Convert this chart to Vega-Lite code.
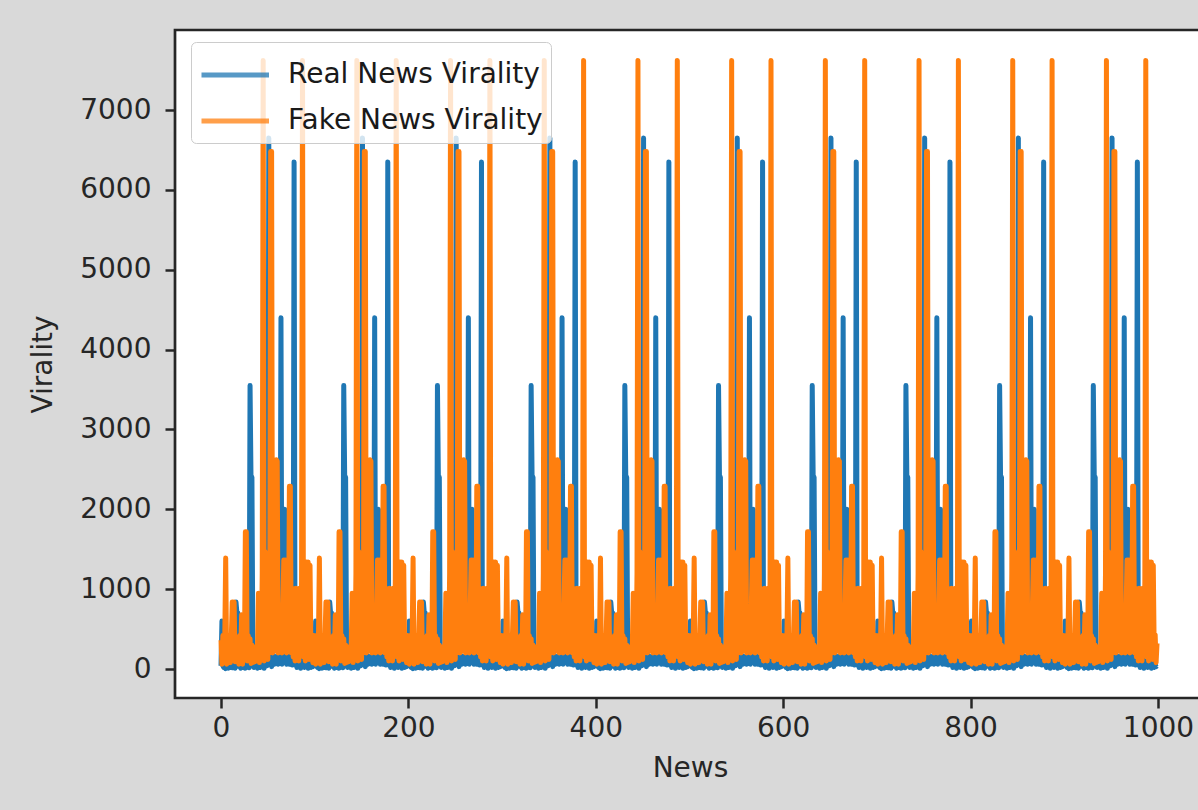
{
"$schema": "https://vega.github.io/schema/vega-lite/v6.json",
"width": 1030, "height": 668,
"autosize": {"type": "none"},
"padding": {"left": 175, "top": 30, "right": 0, "bottom": 112},
"background": "#d9d9d9",
"config": {
  "view": {"fill": "white", "stroke": "#262626", "strokeWidth": 2.7},
  "font": "DejaVu Sans",
  "axis": {"grid": false, "domain": false, "tickColor": "#262626", "tickWidth": 2.5, "tickSize": 10, "labelFontSize": 28, "titleFontSize": 28, "labelColor": "#262626", "titleColor": "#262626", "titleFontWeight": "normal", "labelFont": "DejaVu Sans", "titleFont": "DejaVu Sans", "format": "d"}
},
"datasets": {"d": [
{"n":0,"r":40,"f":360},{"n":1,"r":600,"f":60},{"n":2,"r":40,"f":420},{"n":3,"r":20,"f":120},{"n":4,"r":60,"f":380},{"n":5,"r":5,"f":1390},{"n":6,"r":80,"f":60},{"n":7,"r":30,"f":430},{"n":8,"r":10,"f":200},{"n":9,"r":50,"f":400},
{"n":10,"r":20,"f":80},{"n":11,"r":70,"f":400},{"n":12,"r":15,"f":840},{"n":13,"r":40,"f":150},{"n":14,"r":90,"f":840},{"n":15,"r":10,"f":90},{"n":16,"r":840,"f":400},{"n":17,"r":700,"f":250},{"n":18,"r":700,"f":400},{"n":19,"r":30,"f":60},
{"n":20,"r":60,"f":420},{"n":21,"r":10,"f":150},{"n":22,"r":40,"f":680},{"n":23,"r":80,"f":60},{"n":24,"r":20,"f":600},{"n":25,"r":50,"f":150},{"n":26,"r":10,"f":1720},{"n":27,"r":60,"f":1720},{"n":28,"r":30,"f":100},{"n":29,"r":90,"f":420},
{"n":30,"r":15,"f":120},{"n":31,"r":3550,"f":380},{"n":32,"r":2400,"f":70},{"n":33,"r":2400,"f":300},{"n":34,"r":250,"f":80},{"n":35,"r":20,"f":260},{"n":36,"r":70,"f":90},{"n":37,"r":30,"f":280},{"n":38,"r":100,"f":120},{"n":39,"r":10,"f":300},
{"n":40,"r":60,"f":950},{"n":41,"r":120,"f":80},{"n":42,"r":20,"f":900},{"n":43,"r":90,"f":150},{"n":44,"r":50,"f":1200},{"n":45,"r":130,"f":7620},{"n":46,"r":10,"f":100},{"n":47,"r":80,"f":1470},{"n":48,"r":140,"f":300},{"n":49,"r":40,"f":1300},
{"n":50,"r":100,"f":120},{"n":51,"r":6650,"f":1100},{"n":52,"r":60,"f":200},{"n":53,"r":150,"f":6480},{"n":54,"r":30,"f":6480},{"n":55,"r":120,"f":200},{"n":56,"r":170,"f":1200},{"n":57,"r":60,"f":220},{"n":58,"r":150,"f":1300},{"n":59,"r":90,"f":2620},
{"n":60,"r":160,"f":2600},{"n":61,"r":60,"f":200},{"n":62,"r":140,"f":780},{"n":63,"r":170,"f":220},{"n":64,"r":4400,"f":760},{"n":65,"r":60,"f":200},{"n":66,"r":150,"f":780},{"n":67,"r":120,"f":1365},{"n":68,"r":2000,"f":220},{"n":69,"r":170,"f":1365},
{"n":70,"r":60,"f":200},{"n":71,"r":160,"f":900},{"n":72,"r":130,"f":250},{"n":73,"r":60,"f":2290},{"n":74,"r":170,"f":2290},{"n":75,"r":140,"f":200},{"n":76,"r":50,"f":1010},{"n":77,"r":120,"f":150},{"n":78,"r":6350,"f":1000},{"n":79,"r":50,"f":100},
{"n":80,"r":110,"f":1010},{"n":81,"r":20,"f":150},{"n":82,"r":90,"f":980},{"n":83,"r":60,"f":100},{"n":84,"r":130,"f":1010},{"n":85,"r":10,"f":200},{"n":86,"r":70,"f":1100},{"n":87,"r":40,"f":7620},{"n":88,"r":100,"f":150},{"n":89,"r":20,"f":1200},
{"n":90,"r":60,"f":100},{"n":91,"r":30,"f":1340},{"n":92,"r":80,"f":200},{"n":93,"r":10,"f":1340},{"n":94,"r":50,"f":120},{"n":95,"r":90,"f":1300},{"n":96,"r":20,"f":200},{"n":97,"r":60,"f":430},{"n":98,"r":30,"f":80},{"n":99,"r":40,"f":420},
{"n":100,"r":40,"f":360},{"n":101,"r":600,"f":60},{"n":102,"r":40,"f":420},{"n":103,"r":20,"f":120},{"n":104,"r":60,"f":380},{"n":105,"r":5,"f":1390},{"n":106,"r":80,"f":60},{"n":107,"r":30,"f":430},{"n":108,"r":10,"f":200},{"n":109,"r":50,"f":400},
{"n":110,"r":20,"f":80},{"n":111,"r":70,"f":400},{"n":112,"r":15,"f":840},{"n":113,"r":40,"f":150},{"n":114,"r":90,"f":840},{"n":115,"r":10,"f":90},{"n":116,"r":840,"f":400},{"n":117,"r":700,"f":250},{"n":118,"r":700,"f":400},{"n":119,"r":30,"f":60},
{"n":120,"r":60,"f":420},{"n":121,"r":10,"f":150},{"n":122,"r":40,"f":680},{"n":123,"r":80,"f":60},{"n":124,"r":20,"f":600},{"n":125,"r":50,"f":150},{"n":126,"r":10,"f":1720},{"n":127,"r":60,"f":1720},{"n":128,"r":30,"f":100},{"n":129,"r":90,"f":420},
{"n":130,"r":15,"f":120},{"n":131,"r":3550,"f":380},{"n":132,"r":2400,"f":70},{"n":133,"r":2400,"f":300},{"n":134,"r":250,"f":80},{"n":135,"r":20,"f":260},{"n":136,"r":70,"f":90},{"n":137,"r":30,"f":280},{"n":138,"r":100,"f":120},{"n":139,"r":10,"f":300},
{"n":140,"r":60,"f":950},{"n":141,"r":120,"f":80},{"n":142,"r":20,"f":900},{"n":143,"r":90,"f":150},{"n":144,"r":50,"f":1200},{"n":145,"r":130,"f":7620},{"n":146,"r":10,"f":100},{"n":147,"r":80,"f":1470},{"n":148,"r":140,"f":300},{"n":149,"r":40,"f":1300},
{"n":150,"r":100,"f":120},{"n":151,"r":6650,"f":1100},{"n":152,"r":60,"f":200},{"n":153,"r":150,"f":6480},{"n":154,"r":30,"f":6480},{"n":155,"r":120,"f":200},{"n":156,"r":170,"f":1200},{"n":157,"r":60,"f":220},{"n":158,"r":150,"f":1300},{"n":159,"r":90,"f":2620},
{"n":160,"r":160,"f":2600},{"n":161,"r":60,"f":200},{"n":162,"r":140,"f":780},{"n":163,"r":170,"f":220},{"n":164,"r":4400,"f":760},{"n":165,"r":60,"f":200},{"n":166,"r":150,"f":780},{"n":167,"r":120,"f":1365},{"n":168,"r":2000,"f":220},{"n":169,"r":170,"f":1365},
{"n":170,"r":60,"f":200},{"n":171,"r":160,"f":900},{"n":172,"r":130,"f":250},{"n":173,"r":60,"f":2290},{"n":174,"r":170,"f":2290},{"n":175,"r":140,"f":200},{"n":176,"r":50,"f":1010},{"n":177,"r":120,"f":150},{"n":178,"r":6350,"f":1000},{"n":179,"r":50,"f":100},
{"n":180,"r":110,"f":1010},{"n":181,"r":20,"f":150},{"n":182,"r":90,"f":980},{"n":183,"r":60,"f":100},{"n":184,"r":130,"f":1010},{"n":185,"r":10,"f":200},{"n":186,"r":70,"f":1100},{"n":187,"r":40,"f":7620},{"n":188,"r":100,"f":150},{"n":189,"r":20,"f":1200},
{"n":190,"r":60,"f":100},{"n":191,"r":30,"f":1340},{"n":192,"r":80,"f":200},{"n":193,"r":10,"f":1340},{"n":194,"r":50,"f":120},{"n":195,"r":90,"f":1300},{"n":196,"r":20,"f":200},{"n":197,"r":60,"f":430},{"n":198,"r":30,"f":80},{"n":199,"r":40,"f":420},
{"n":200,"r":40,"f":360},{"n":201,"r":600,"f":60},{"n":202,"r":40,"f":420},{"n":203,"r":20,"f":120},{"n":204,"r":60,"f":380},{"n":205,"r":5,"f":1390},{"n":206,"r":80,"f":60},{"n":207,"r":30,"f":430},{"n":208,"r":10,"f":200},{"n":209,"r":50,"f":400},
{"n":210,"r":20,"f":80},{"n":211,"r":70,"f":400},{"n":212,"r":15,"f":840},{"n":213,"r":40,"f":150},{"n":214,"r":90,"f":840},{"n":215,"r":10,"f":90},{"n":216,"r":840,"f":400},{"n":217,"r":700,"f":250},{"n":218,"r":700,"f":400},{"n":219,"r":30,"f":60},
{"n":220,"r":60,"f":420},{"n":221,"r":10,"f":150},{"n":222,"r":40,"f":680},{"n":223,"r":80,"f":60},{"n":224,"r":20,"f":600},{"n":225,"r":50,"f":150},{"n":226,"r":10,"f":1720},{"n":227,"r":60,"f":1720},{"n":228,"r":30,"f":100},{"n":229,"r":90,"f":420},
{"n":230,"r":15,"f":120},{"n":231,"r":3550,"f":380},{"n":232,"r":2400,"f":70},{"n":233,"r":2400,"f":300},{"n":234,"r":250,"f":80},{"n":235,"r":20,"f":260},{"n":236,"r":70,"f":90},{"n":237,"r":30,"f":280},{"n":238,"r":100,"f":120},{"n":239,"r":10,"f":300},
{"n":240,"r":60,"f":950},{"n":241,"r":120,"f":80},{"n":242,"r":20,"f":900},{"n":243,"r":90,"f":150},{"n":244,"r":50,"f":1200},{"n":245,"r":130,"f":7620},{"n":246,"r":10,"f":100},{"n":247,"r":80,"f":1470},{"n":248,"r":140,"f":300},{"n":249,"r":40,"f":1300},
{"n":250,"r":100,"f":120},{"n":251,"r":6650,"f":1100},{"n":252,"r":60,"f":200},{"n":253,"r":150,"f":6480},{"n":254,"r":30,"f":6480},{"n":255,"r":120,"f":200},{"n":256,"r":170,"f":1200},{"n":257,"r":60,"f":220},{"n":258,"r":150,"f":1300},{"n":259,"r":90,"f":2620},
{"n":260,"r":160,"f":2600},{"n":261,"r":60,"f":200},{"n":262,"r":140,"f":780},{"n":263,"r":170,"f":220},{"n":264,"r":4400,"f":760},{"n":265,"r":60,"f":200},{"n":266,"r":150,"f":780},{"n":267,"r":120,"f":1365},{"n":268,"r":2000,"f":220},{"n":269,"r":170,"f":1365},
{"n":270,"r":60,"f":200},{"n":271,"r":160,"f":900},{"n":272,"r":130,"f":250},{"n":273,"r":60,"f":2290},{"n":274,"r":170,"f":2290},{"n":275,"r":140,"f":200},{"n":276,"r":50,"f":1010},{"n":277,"r":120,"f":150},{"n":278,"r":6350,"f":1000},{"n":279,"r":50,"f":100},
{"n":280,"r":110,"f":1010},{"n":281,"r":20,"f":150},{"n":282,"r":90,"f":980},{"n":283,"r":60,"f":100},{"n":284,"r":130,"f":1010},{"n":285,"r":10,"f":200},{"n":286,"r":70,"f":1100},{"n":287,"r":40,"f":7620},{"n":288,"r":100,"f":150},{"n":289,"r":20,"f":1200},
{"n":290,"r":60,"f":100},{"n":291,"r":30,"f":1340},{"n":292,"r":80,"f":200},{"n":293,"r":10,"f":1340},{"n":294,"r":50,"f":120},{"n":295,"r":90,"f":1300},{"n":296,"r":20,"f":200},{"n":297,"r":60,"f":430},{"n":298,"r":30,"f":80},{"n":299,"r":40,"f":420},
{"n":300,"r":40,"f":360},{"n":301,"r":600,"f":60},{"n":302,"r":40,"f":420},{"n":303,"r":20,"f":120},{"n":304,"r":60,"f":380},{"n":305,"r":5,"f":1390},{"n":306,"r":80,"f":60},{"n":307,"r":30,"f":430},{"n":308,"r":10,"f":200},{"n":309,"r":50,"f":400},
{"n":310,"r":20,"f":80},{"n":311,"r":70,"f":400},{"n":312,"r":15,"f":840},{"n":313,"r":40,"f":150},{"n":314,"r":90,"f":840},{"n":315,"r":10,"f":90},{"n":316,"r":840,"f":400},{"n":317,"r":700,"f":250},{"n":318,"r":700,"f":400},{"n":319,"r":30,"f":60},
{"n":320,"r":60,"f":420},{"n":321,"r":10,"f":150},{"n":322,"r":40,"f":680},{"n":323,"r":80,"f":60},{"n":324,"r":20,"f":600},{"n":325,"r":50,"f":150},{"n":326,"r":10,"f":1720},{"n":327,"r":60,"f":1720},{"n":328,"r":30,"f":100},{"n":329,"r":90,"f":420},
{"n":330,"r":15,"f":120},{"n":331,"r":3550,"f":380},{"n":332,"r":2400,"f":70},{"n":333,"r":2400,"f":300},{"n":334,"r":250,"f":80},{"n":335,"r":20,"f":260},{"n":336,"r":70,"f":90},{"n":337,"r":30,"f":280},{"n":338,"r":100,"f":120},{"n":339,"r":10,"f":300},
{"n":340,"r":60,"f":950},{"n":341,"r":120,"f":80},{"n":342,"r":20,"f":900},{"n":343,"r":90,"f":150},{"n":344,"r":50,"f":1200},{"n":345,"r":130,"f":7620},{"n":346,"r":10,"f":100},{"n":347,"r":80,"f":1470},{"n":348,"r":140,"f":300},{"n":349,"r":40,"f":1300},
{"n":350,"r":100,"f":120},{"n":351,"r":6650,"f":1100},{"n":352,"r":60,"f":200},{"n":353,"r":150,"f":6480},{"n":354,"r":30,"f":6480},{"n":355,"r":120,"f":200},{"n":356,"r":170,"f":1200},{"n":357,"r":60,"f":220},{"n":358,"r":150,"f":1300},{"n":359,"r":90,"f":2620},
{"n":360,"r":160,"f":2600},{"n":361,"r":60,"f":200},{"n":362,"r":140,"f":780},{"n":363,"r":170,"f":220},{"n":364,"r":4400,"f":760},{"n":365,"r":60,"f":200},{"n":366,"r":150,"f":780},{"n":367,"r":120,"f":1365},{"n":368,"r":2000,"f":220},{"n":369,"r":170,"f":1365},
{"n":370,"r":60,"f":200},{"n":371,"r":160,"f":900},{"n":372,"r":130,"f":250},{"n":373,"r":60,"f":2290},{"n":374,"r":170,"f":2290},{"n":375,"r":140,"f":200},{"n":376,"r":50,"f":1010},{"n":377,"r":120,"f":150},{"n":378,"r":6350,"f":1000},{"n":379,"r":50,"f":100},
{"n":380,"r":110,"f":1010},{"n":381,"r":20,"f":150},{"n":382,"r":90,"f":980},{"n":383,"r":60,"f":100},{"n":384,"r":130,"f":1010},{"n":385,"r":10,"f":200},{"n":386,"r":70,"f":1100},{"n":387,"r":40,"f":7620},{"n":388,"r":100,"f":150},{"n":389,"r":20,"f":1200},
{"n":390,"r":60,"f":100},{"n":391,"r":30,"f":1340},{"n":392,"r":80,"f":200},{"n":393,"r":10,"f":1340},{"n":394,"r":50,"f":120},{"n":395,"r":90,"f":1300},{"n":396,"r":20,"f":200},{"n":397,"r":60,"f":430},{"n":398,"r":30,"f":80},{"n":399,"r":40,"f":420},
{"n":400,"r":40,"f":360},{"n":401,"r":600,"f":60},{"n":402,"r":40,"f":420},{"n":403,"r":20,"f":120},{"n":404,"r":60,"f":380},{"n":405,"r":5,"f":1390},{"n":406,"r":80,"f":60},{"n":407,"r":30,"f":430},{"n":408,"r":10,"f":200},{"n":409,"r":50,"f":400},
{"n":410,"r":20,"f":80},{"n":411,"r":70,"f":400},{"n":412,"r":15,"f":840},{"n":413,"r":40,"f":150},{"n":414,"r":90,"f":840},{"n":415,"r":10,"f":90},{"n":416,"r":840,"f":400},{"n":417,"r":700,"f":250},{"n":418,"r":700,"f":400},{"n":419,"r":30,"f":60},
{"n":420,"r":60,"f":420},{"n":421,"r":10,"f":150},{"n":422,"r":40,"f":680},{"n":423,"r":80,"f":60},{"n":424,"r":20,"f":600},{"n":425,"r":50,"f":150},{"n":426,"r":10,"f":1720},{"n":427,"r":60,"f":1720},{"n":428,"r":30,"f":100},{"n":429,"r":90,"f":420},
{"n":430,"r":15,"f":120},{"n":431,"r":3550,"f":380},{"n":432,"r":2400,"f":70},{"n":433,"r":2400,"f":300},{"n":434,"r":250,"f":80},{"n":435,"r":20,"f":260},{"n":436,"r":70,"f":90},{"n":437,"r":30,"f":280},{"n":438,"r":100,"f":120},{"n":439,"r":10,"f":300},
{"n":440,"r":60,"f":950},{"n":441,"r":120,"f":80},{"n":442,"r":20,"f":900},{"n":443,"r":90,"f":150},{"n":444,"r":50,"f":1200},{"n":445,"r":130,"f":7620},{"n":446,"r":10,"f":100},{"n":447,"r":80,"f":1470},{"n":448,"r":140,"f":300},{"n":449,"r":40,"f":1300},
{"n":450,"r":100,"f":120},{"n":451,"r":6650,"f":1100},{"n":452,"r":60,"f":200},{"n":453,"r":150,"f":6480},{"n":454,"r":30,"f":6480},{"n":455,"r":120,"f":200},{"n":456,"r":170,"f":1200},{"n":457,"r":60,"f":220},{"n":458,"r":150,"f":1300},{"n":459,"r":90,"f":2620},
{"n":460,"r":160,"f":2600},{"n":461,"r":60,"f":200},{"n":462,"r":140,"f":780},{"n":463,"r":170,"f":220},{"n":464,"r":4400,"f":760},{"n":465,"r":60,"f":200},{"n":466,"r":150,"f":780},{"n":467,"r":120,"f":1365},{"n":468,"r":2000,"f":220},{"n":469,"r":170,"f":1365},
{"n":470,"r":60,"f":200},{"n":471,"r":160,"f":900},{"n":472,"r":130,"f":250},{"n":473,"r":60,"f":2290},{"n":474,"r":170,"f":2290},{"n":475,"r":140,"f":200},{"n":476,"r":50,"f":1010},{"n":477,"r":120,"f":150},{"n":478,"r":6350,"f":1000},{"n":479,"r":50,"f":100},
{"n":480,"r":110,"f":1010},{"n":481,"r":20,"f":150},{"n":482,"r":90,"f":980},{"n":483,"r":60,"f":100},{"n":484,"r":130,"f":1010},{"n":485,"r":10,"f":200},{"n":486,"r":70,"f":1100},{"n":487,"r":40,"f":7620},{"n":488,"r":100,"f":150},{"n":489,"r":20,"f":1200},
{"n":490,"r":60,"f":100},{"n":491,"r":30,"f":1340},{"n":492,"r":80,"f":200},{"n":493,"r":10,"f":1340},{"n":494,"r":50,"f":120},{"n":495,"r":90,"f":1300},{"n":496,"r":20,"f":200},{"n":497,"r":60,"f":430},{"n":498,"r":30,"f":80},{"n":499,"r":40,"f":420},
{"n":500,"r":40,"f":360},{"n":501,"r":600,"f":60},{"n":502,"r":40,"f":420},{"n":503,"r":20,"f":120},{"n":504,"r":60,"f":380},{"n":505,"r":5,"f":1390},{"n":506,"r":80,"f":60},{"n":507,"r":30,"f":430},{"n":508,"r":10,"f":200},{"n":509,"r":50,"f":400},
{"n":510,"r":20,"f":80},{"n":511,"r":70,"f":400},{"n":512,"r":15,"f":840},{"n":513,"r":40,"f":150},{"n":514,"r":90,"f":840},{"n":515,"r":10,"f":90},{"n":516,"r":840,"f":400},{"n":517,"r":700,"f":250},{"n":518,"r":700,"f":400},{"n":519,"r":30,"f":60},
{"n":520,"r":60,"f":420},{"n":521,"r":10,"f":150},{"n":522,"r":40,"f":680},{"n":523,"r":80,"f":60},{"n":524,"r":20,"f":600},{"n":525,"r":50,"f":150},{"n":526,"r":10,"f":1720},{"n":527,"r":60,"f":1720},{"n":528,"r":30,"f":100},{"n":529,"r":90,"f":420},
{"n":530,"r":15,"f":120},{"n":531,"r":3550,"f":380},{"n":532,"r":2400,"f":70},{"n":533,"r":2400,"f":300},{"n":534,"r":250,"f":80},{"n":535,"r":20,"f":260},{"n":536,"r":70,"f":90},{"n":537,"r":30,"f":280},{"n":538,"r":100,"f":120},{"n":539,"r":10,"f":300},
{"n":540,"r":60,"f":950},{"n":541,"r":120,"f":80},{"n":542,"r":20,"f":900},{"n":543,"r":90,"f":150},{"n":544,"r":50,"f":1200},{"n":545,"r":130,"f":7620},{"n":546,"r":10,"f":100},{"n":547,"r":80,"f":1470},{"n":548,"r":140,"f":300},{"n":549,"r":40,"f":1300},
{"n":550,"r":100,"f":120},{"n":551,"r":6650,"f":1100},{"n":552,"r":60,"f":200},{"n":553,"r":150,"f":6480},{"n":554,"r":30,"f":6480},{"n":555,"r":120,"f":200},{"n":556,"r":170,"f":1200},{"n":557,"r":60,"f":220},{"n":558,"r":150,"f":1300},{"n":559,"r":90,"f":2620},
{"n":560,"r":160,"f":2600},{"n":561,"r":60,"f":200},{"n":562,"r":140,"f":780},{"n":563,"r":170,"f":220},{"n":564,"r":4400,"f":760},{"n":565,"r":60,"f":200},{"n":566,"r":150,"f":780},{"n":567,"r":120,"f":1365},{"n":568,"r":2000,"f":220},{"n":569,"r":170,"f":1365},
{"n":570,"r":60,"f":200},{"n":571,"r":160,"f":900},{"n":572,"r":130,"f":250},{"n":573,"r":60,"f":2290},{"n":574,"r":170,"f":2290},{"n":575,"r":140,"f":200},{"n":576,"r":50,"f":1010},{"n":577,"r":120,"f":150},{"n":578,"r":6350,"f":1000},{"n":579,"r":50,"f":100},
{"n":580,"r":110,"f":1010},{"n":581,"r":20,"f":150},{"n":582,"r":90,"f":980},{"n":583,"r":60,"f":100},{"n":584,"r":130,"f":1010},{"n":585,"r":10,"f":200},{"n":586,"r":70,"f":1100},{"n":587,"r":40,"f":7620},{"n":588,"r":100,"f":150},{"n":589,"r":20,"f":1200},
{"n":590,"r":60,"f":100},{"n":591,"r":30,"f":1340},{"n":592,"r":80,"f":200},{"n":593,"r":10,"f":1340},{"n":594,"r":50,"f":120},{"n":595,"r":90,"f":1300},{"n":596,"r":20,"f":200},{"n":597,"r":60,"f":430},{"n":598,"r":30,"f":80},{"n":599,"r":40,"f":420},
{"n":600,"r":40,"f":360},{"n":601,"r":600,"f":60},{"n":602,"r":40,"f":420},{"n":603,"r":20,"f":120},{"n":604,"r":60,"f":380},{"n":605,"r":5,"f":1390},{"n":606,"r":80,"f":60},{"n":607,"r":30,"f":430},{"n":608,"r":10,"f":200},{"n":609,"r":50,"f":400},
{"n":610,"r":20,"f":80},{"n":611,"r":70,"f":400},{"n":612,"r":15,"f":840},{"n":613,"r":40,"f":150},{"n":614,"r":90,"f":840},{"n":615,"r":10,"f":90},{"n":616,"r":840,"f":400},{"n":617,"r":700,"f":250},{"n":618,"r":700,"f":400},{"n":619,"r":30,"f":60},
{"n":620,"r":60,"f":420},{"n":621,"r":10,"f":150},{"n":622,"r":40,"f":680},{"n":623,"r":80,"f":60},{"n":624,"r":20,"f":600},{"n":625,"r":50,"f":150},{"n":626,"r":10,"f":1720},{"n":627,"r":60,"f":1720},{"n":628,"r":30,"f":100},{"n":629,"r":90,"f":420},
{"n":630,"r":15,"f":120},{"n":631,"r":3550,"f":380},{"n":632,"r":2400,"f":70},{"n":633,"r":2400,"f":300},{"n":634,"r":250,"f":80},{"n":635,"r":20,"f":260},{"n":636,"r":70,"f":90},{"n":637,"r":30,"f":280},{"n":638,"r":100,"f":120},{"n":639,"r":10,"f":300},
{"n":640,"r":60,"f":950},{"n":641,"r":120,"f":80},{"n":642,"r":20,"f":900},{"n":643,"r":90,"f":150},{"n":644,"r":50,"f":1200},{"n":645,"r":130,"f":7620},{"n":646,"r":10,"f":100},{"n":647,"r":80,"f":1470},{"n":648,"r":140,"f":300},{"n":649,"r":40,"f":1300},
{"n":650,"r":100,"f":120},{"n":651,"r":6650,"f":1100},{"n":652,"r":60,"f":200},{"n":653,"r":150,"f":6480},{"n":654,"r":30,"f":6480},{"n":655,"r":120,"f":200},{"n":656,"r":170,"f":1200},{"n":657,"r":60,"f":220},{"n":658,"r":150,"f":1300},{"n":659,"r":90,"f":2620},
{"n":660,"r":160,"f":2600},{"n":661,"r":60,"f":200},{"n":662,"r":140,"f":780},{"n":663,"r":170,"f":220},{"n":664,"r":4400,"f":760},{"n":665,"r":60,"f":200},{"n":666,"r":150,"f":780},{"n":667,"r":120,"f":1365},{"n":668,"r":2000,"f":220},{"n":669,"r":170,"f":1365},
{"n":670,"r":60,"f":200},{"n":671,"r":160,"f":900},{"n":672,"r":130,"f":250},{"n":673,"r":60,"f":2290},{"n":674,"r":170,"f":2290},{"n":675,"r":140,"f":200},{"n":676,"r":50,"f":1010},{"n":677,"r":120,"f":150},{"n":678,"r":6350,"f":1000},{"n":679,"r":50,"f":100},
{"n":680,"r":110,"f":1010},{"n":681,"r":20,"f":150},{"n":682,"r":90,"f":980},{"n":683,"r":60,"f":100},{"n":684,"r":130,"f":1010},{"n":685,"r":10,"f":200},{"n":686,"r":70,"f":1100},{"n":687,"r":40,"f":7620},{"n":688,"r":100,"f":150},{"n":689,"r":20,"f":1200},
{"n":690,"r":60,"f":100},{"n":691,"r":30,"f":1340},{"n":692,"r":80,"f":200},{"n":693,"r":10,"f":1340},{"n":694,"r":50,"f":120},{"n":695,"r":90,"f":1300},{"n":696,"r":20,"f":200},{"n":697,"r":60,"f":430},{"n":698,"r":30,"f":80},{"n":699,"r":40,"f":420},
{"n":700,"r":40,"f":360},{"n":701,"r":600,"f":60},{"n":702,"r":40,"f":420},{"n":703,"r":20,"f":120},{"n":704,"r":60,"f":380},{"n":705,"r":5,"f":1390},{"n":706,"r":80,"f":60},{"n":707,"r":30,"f":430},{"n":708,"r":10,"f":200},{"n":709,"r":50,"f":400},
{"n":710,"r":20,"f":80},{"n":711,"r":70,"f":400},{"n":712,"r":15,"f":840},{"n":713,"r":40,"f":150},{"n":714,"r":90,"f":840},{"n":715,"r":10,"f":90},{"n":716,"r":840,"f":400},{"n":717,"r":700,"f":250},{"n":718,"r":700,"f":400},{"n":719,"r":30,"f":60},
{"n":720,"r":60,"f":420},{"n":721,"r":10,"f":150},{"n":722,"r":40,"f":680},{"n":723,"r":80,"f":60},{"n":724,"r":20,"f":600},{"n":725,"r":50,"f":150},{"n":726,"r":10,"f":1720},{"n":727,"r":60,"f":1720},{"n":728,"r":30,"f":100},{"n":729,"r":90,"f":420},
{"n":730,"r":15,"f":120},{"n":731,"r":3550,"f":380},{"n":732,"r":2400,"f":70},{"n":733,"r":2400,"f":300},{"n":734,"r":250,"f":80},{"n":735,"r":20,"f":260},{"n":736,"r":70,"f":90},{"n":737,"r":30,"f":280},{"n":738,"r":100,"f":120},{"n":739,"r":10,"f":300},
{"n":740,"r":60,"f":950},{"n":741,"r":120,"f":80},{"n":742,"r":20,"f":900},{"n":743,"r":90,"f":150},{"n":744,"r":50,"f":1200},{"n":745,"r":130,"f":7620},{"n":746,"r":10,"f":100},{"n":747,"r":80,"f":1470},{"n":748,"r":140,"f":300},{"n":749,"r":40,"f":1300},
{"n":750,"r":100,"f":120},{"n":751,"r":6650,"f":1100},{"n":752,"r":60,"f":200},{"n":753,"r":150,"f":6480},{"n":754,"r":30,"f":6480},{"n":755,"r":120,"f":200},{"n":756,"r":170,"f":1200},{"n":757,"r":60,"f":220},{"n":758,"r":150,"f":1300},{"n":759,"r":90,"f":2620},
{"n":760,"r":160,"f":2600},{"n":761,"r":60,"f":200},{"n":762,"r":140,"f":780},{"n":763,"r":170,"f":220},{"n":764,"r":4400,"f":760},{"n":765,"r":60,"f":200},{"n":766,"r":150,"f":780},{"n":767,"r":120,"f":1365},{"n":768,"r":2000,"f":220},{"n":769,"r":170,"f":1365},
{"n":770,"r":60,"f":200},{"n":771,"r":160,"f":900},{"n":772,"r":130,"f":250},{"n":773,"r":60,"f":2290},{"n":774,"r":170,"f":2290},{"n":775,"r":140,"f":200},{"n":776,"r":50,"f":1010},{"n":777,"r":120,"f":150},{"n":778,"r":6350,"f":1000},{"n":779,"r":50,"f":100},
{"n":780,"r":110,"f":1010},{"n":781,"r":20,"f":150},{"n":782,"r":90,"f":980},{"n":783,"r":60,"f":100},{"n":784,"r":130,"f":1010},{"n":785,"r":10,"f":200},{"n":786,"r":70,"f":1100},{"n":787,"r":40,"f":7620},{"n":788,"r":100,"f":150},{"n":789,"r":20,"f":1200},
{"n":790,"r":60,"f":100},{"n":791,"r":30,"f":1340},{"n":792,"r":80,"f":200},{"n":793,"r":10,"f":1340},{"n":794,"r":50,"f":120},{"n":795,"r":90,"f":1300},{"n":796,"r":20,"f":200},{"n":797,"r":60,"f":430},{"n":798,"r":30,"f":80},{"n":799,"r":40,"f":420},
{"n":800,"r":40,"f":360},{"n":801,"r":600,"f":60},{"n":802,"r":40,"f":420},{"n":803,"r":20,"f":120},{"n":804,"r":60,"f":380},{"n":805,"r":5,"f":1390},{"n":806,"r":80,"f":60},{"n":807,"r":30,"f":430},{"n":808,"r":10,"f":200},{"n":809,"r":50,"f":400},
{"n":810,"r":20,"f":80},{"n":811,"r":70,"f":400},{"n":812,"r":15,"f":840},{"n":813,"r":40,"f":150},{"n":814,"r":90,"f":840},{"n":815,"r":10,"f":90},{"n":816,"r":840,"f":400},{"n":817,"r":700,"f":250},{"n":818,"r":700,"f":400},{"n":819,"r":30,"f":60},
{"n":820,"r":60,"f":420},{"n":821,"r":10,"f":150},{"n":822,"r":40,"f":680},{"n":823,"r":80,"f":60},{"n":824,"r":20,"f":600},{"n":825,"r":50,"f":150},{"n":826,"r":10,"f":1720},{"n":827,"r":60,"f":1720},{"n":828,"r":30,"f":100},{"n":829,"r":90,"f":420},
{"n":830,"r":15,"f":120},{"n":831,"r":3550,"f":380},{"n":832,"r":2400,"f":70},{"n":833,"r":2400,"f":300},{"n":834,"r":250,"f":80},{"n":835,"r":20,"f":260},{"n":836,"r":70,"f":90},{"n":837,"r":30,"f":280},{"n":838,"r":100,"f":120},{"n":839,"r":10,"f":300},
{"n":840,"r":60,"f":950},{"n":841,"r":120,"f":80},{"n":842,"r":20,"f":900},{"n":843,"r":90,"f":150},{"n":844,"r":50,"f":1200},{"n":845,"r":130,"f":7620},{"n":846,"r":10,"f":100},{"n":847,"r":80,"f":1470},{"n":848,"r":140,"f":300},{"n":849,"r":40,"f":1300},
{"n":850,"r":100,"f":120},{"n":851,"r":6650,"f":1100},{"n":852,"r":60,"f":200},{"n":853,"r":150,"f":6480},{"n":854,"r":30,"f":6480},{"n":855,"r":120,"f":200},{"n":856,"r":170,"f":1200},{"n":857,"r":60,"f":220},{"n":858,"r":150,"f":1300},{"n":859,"r":90,"f":2620},
{"n":860,"r":160,"f":2600},{"n":861,"r":60,"f":200},{"n":862,"r":140,"f":780},{"n":863,"r":170,"f":220},{"n":864,"r":4400,"f":760},{"n":865,"r":60,"f":200},{"n":866,"r":150,"f":780},{"n":867,"r":120,"f":1365},{"n":868,"r":2000,"f":220},{"n":869,"r":170,"f":1365},
{"n":870,"r":60,"f":200},{"n":871,"r":160,"f":900},{"n":872,"r":130,"f":250},{"n":873,"r":60,"f":2290},{"n":874,"r":170,"f":2290},{"n":875,"r":140,"f":200},{"n":876,"r":50,"f":1010},{"n":877,"r":120,"f":150},{"n":878,"r":6350,"f":1000},{"n":879,"r":50,"f":100},
{"n":880,"r":110,"f":1010},{"n":881,"r":20,"f":150},{"n":882,"r":90,"f":980},{"n":883,"r":60,"f":100},{"n":884,"r":130,"f":1010},{"n":885,"r":10,"f":200},{"n":886,"r":70,"f":1100},{"n":887,"r":40,"f":7620},{"n":888,"r":100,"f":150},{"n":889,"r":20,"f":1200},
{"n":890,"r":60,"f":100},{"n":891,"r":30,"f":1340},{"n":892,"r":80,"f":200},{"n":893,"r":10,"f":1340},{"n":894,"r":50,"f":120},{"n":895,"r":90,"f":1300},{"n":896,"r":20,"f":200},{"n":897,"r":60,"f":430},{"n":898,"r":30,"f":80},{"n":899,"r":40,"f":420},
{"n":900,"r":40,"f":360},{"n":901,"r":600,"f":60},{"n":902,"r":40,"f":420},{"n":903,"r":20,"f":120},{"n":904,"r":60,"f":380},{"n":905,"r":5,"f":1390},{"n":906,"r":80,"f":60},{"n":907,"r":30,"f":430},{"n":908,"r":10,"f":200},{"n":909,"r":50,"f":400},
{"n":910,"r":20,"f":80},{"n":911,"r":70,"f":400},{"n":912,"r":15,"f":840},{"n":913,"r":40,"f":150},{"n":914,"r":90,"f":840},{"n":915,"r":10,"f":90},{"n":916,"r":840,"f":400},{"n":917,"r":700,"f":250},{"n":918,"r":700,"f":400},{"n":919,"r":30,"f":60},
{"n":920,"r":60,"f":420},{"n":921,"r":10,"f":150},{"n":922,"r":40,"f":680},{"n":923,"r":80,"f":60},{"n":924,"r":20,"f":600},{"n":925,"r":50,"f":150},{"n":926,"r":10,"f":1720},{"n":927,"r":60,"f":1720},{"n":928,"r":30,"f":100},{"n":929,"r":90,"f":420},
{"n":930,"r":15,"f":120},{"n":931,"r":3550,"f":380},{"n":932,"r":2400,"f":70},{"n":933,"r":2400,"f":300},{"n":934,"r":250,"f":80},{"n":935,"r":20,"f":260},{"n":936,"r":70,"f":90},{"n":937,"r":30,"f":280},{"n":938,"r":100,"f":120},{"n":939,"r":10,"f":300},
{"n":940,"r":60,"f":950},{"n":941,"r":120,"f":80},{"n":942,"r":20,"f":900},{"n":943,"r":90,"f":150},{"n":944,"r":50,"f":1200},{"n":945,"r":130,"f":7620},{"n":946,"r":10,"f":100},{"n":947,"r":80,"f":1470},{"n":948,"r":140,"f":300},{"n":949,"r":40,"f":1300},
{"n":950,"r":100,"f":120},{"n":951,"r":6650,"f":1100},{"n":952,"r":60,"f":200},{"n":953,"r":150,"f":6480},{"n":954,"r":30,"f":6480},{"n":955,"r":120,"f":200},{"n":956,"r":170,"f":1200},{"n":957,"r":60,"f":220},{"n":958,"r":150,"f":1300},{"n":959,"r":90,"f":2620},
{"n":960,"r":160,"f":2600},{"n":961,"r":60,"f":200},{"n":962,"r":140,"f":780},{"n":963,"r":170,"f":220},{"n":964,"r":4400,"f":760},{"n":965,"r":60,"f":200},{"n":966,"r":150,"f":780},{"n":967,"r":120,"f":1365},{"n":968,"r":2000,"f":220},{"n":969,"r":170,"f":1365},
{"n":970,"r":60,"f":200},{"n":971,"r":160,"f":900},{"n":972,"r":130,"f":250},{"n":973,"r":60,"f":2290},{"n":974,"r":170,"f":2290},{"n":975,"r":140,"f":200},{"n":976,"r":50,"f":1010},{"n":977,"r":120,"f":150},{"n":978,"r":6350,"f":1000},{"n":979,"r":50,"f":100},
{"n":980,"r":110,"f":1010},{"n":981,"r":20,"f":150},{"n":982,"r":90,"f":980},{"n":983,"r":60,"f":100},{"n":984,"r":130,"f":1010},{"n":985,"r":10,"f":200},{"n":986,"r":70,"f":1100},{"n":987,"r":40,"f":7620},{"n":988,"r":100,"f":150},{"n":989,"r":20,"f":1200},
{"n":990,"r":60,"f":100},{"n":991,"r":30,"f":1340},{"n":992,"r":80,"f":200},{"n":993,"r":10,"f":1340},{"n":994,"r":50,"f":120},{"n":995,"r":90,"f":1300},{"n":996,"r":20,"f":200},{"n":997,"r":60,"f":430},{"n":998,"r":30,"f":80},{"n":999,"r":40,"f":320}
]},
"data": {"name": "d"},
"layer": [
  {
    "mark": {"type": "line", "strokeWidth": 5, "strokeJoin": "round", "clip": true},
    "encoding": {
      "x": {"field": "n", "type": "quantitative", "scale": {"domain": [-49.1, 1050.2], "nice": false, "zero": false}, "axis": {"values": [0, 200, 400, 600, 800, 1000], "title": "News", "labelPadding": 6, "titlePadding": 12}},
      "y": {"field": "r", "type": "quantitative", "scale": {"domain": [-363, 8002], "nice": false, "zero": false}, "axis": {"values": [0, 1000, 2000, 3000, 4000, 5000, 6000, 7000], "title": "Virality", "labelPadding": 14, "titlePadding": 22}},
      "color": {"datum": "Real News Virality", "type": "nominal", "scale": {"domain": ["Real News Virality", "Fake News Virality"], "range": ["#1f77b4", "#ff7f0e"]},
        "legend": {"title": null, "orient": "none", "legendX": 16, "legendY": 12, "symbolType": "M-1,0H2", "symbolSize": 2025, "symbolStrokeWidth": 5, "symbolOpacity": 0.75, "labelFontSize": 28, "labelColor": "#1a1a1a", "labelOffset": 39, "padding": 8, "rowPadding": 7, "fillColor": "rgba(255,255,255,0.8)", "strokeColor": "#cccccc", "cornerRadius": 5, "labelLimit": 400}}
    }
  },
  {
    "mark": {"type": "line", "strokeWidth": 5, "strokeJoin": "round", "clip": true},
    "encoding": {
      "x": {"field": "n", "type": "quantitative"},
      "y": {"field": "f", "type": "quantitative", "axis": {"title": "Virality"}},
      "color": {"datum": "Fake News Virality", "type": "nominal"}
    }
  }
]
}
